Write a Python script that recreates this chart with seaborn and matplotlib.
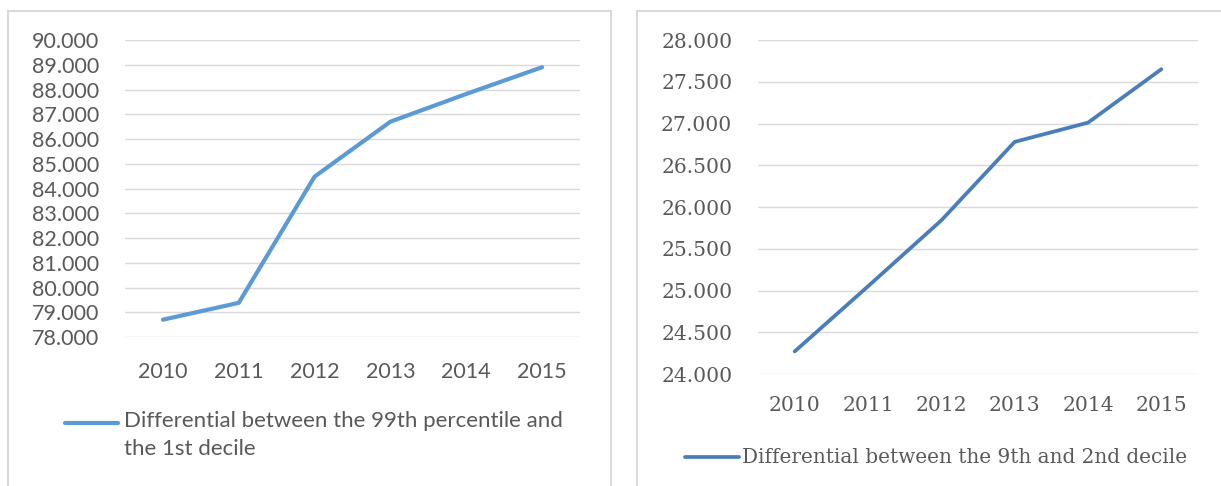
import matplotlib
matplotlib.use("Agg")
import matplotlib.pyplot as plt
from matplotlib.lines import Line2D
from matplotlib.patches import Rectangle
import seaborn as sns
import pandas as pd

years = ["2010", "2011", "2012", "2013", "2014", "2015"]
p99_d1 = [78.70, 79.38, 84.48, 86.70, 87.82, 88.90]
d9_d2 = [24.27, 25.05, 25.84, 26.78, 27.01, 27.65]

left_label = "Differential between the 99th percentile and\nthe 1st decile"
right_label = "Differential between the 9th and 2nd decile"

left_ticks = list(range(78, 91))
right_ticks = [24.0, 24.5, 25.0, 25.5, 26.0, 26.5, 27.0, 27.5, 28.0]

sns.set_theme(style="white")
plt.rcParams["font.family"] = ["Lato", "DejaVu Sans"]

W, H = 1221, 486
fig = plt.figure(figsize=(W / 100, H / 100), dpi=100)
fig.patch.set_facecolor("white")

grid_c = "#D9D9D9"
text_c = "#595959"
sans = ["Lato", "DejaVu Sans"]
serif = ["DejaVu Serif"]


def px(x0, y0, x1, y1):
    """Figure-fraction rectangle from pixel corners (top-left origin)."""
    return [x0 / W, 1 - y1 / H, (x1 - x0) / W, (y1 - y0) / H]


# panel frames
for x0, x1 in [(8, 611), (637, 1240)]:
    fig.patches.append(Rectangle((x0 / W, -0.1), (x1 - x0) / W, 1.1 - 11 / H,
                                 transform=fig.transFigure, fill=False,
                                 edgecolor=grid_c, linewidth=1.5))

df_l = pd.DataFrame({"year": years, "value": p99_d1})
df_r = pd.DataFrame({"year": years, "value": d9_d2})

ax1 = fig.add_axes(px(125, 40, 580, 337))
ax2 = fig.add_axes(px(758, 40, 1198, 374))

sns.lineplot(data=df_l, x="year", y="value", ax=ax1, color="#5B9BD5",
             linewidth=3.0, solid_capstyle="round")
sns.lineplot(data=df_r, x="year", y="value", ax=ax2, color="#4A7EBB",
             linewidth=2.7, solid_capstyle="round")

for ax, ticks, fam, yfs, xfs, ypad, xpad in [
    (ax1, left_ticks, sans, 15.5, 15.5, 18.5, 18),
    (ax2, right_ticks, serif, 14.6, 14.6, 18.5, 15.5),
]:
    ax.set_xlim(-0.5, 5.5)
    ax.set_ylim(ticks[0], ticks[-1])
    ax.set_yticks(ticks)
    ax.set_yticklabels([f"{t:.3f}" for t in ticks], family=fam,
                       fontsize=yfs, color=text_c)
    ax.set_xticks(range(len(years)))
    ax.set_xticklabels(years, family=fam, fontsize=xfs, color=text_c)
    ax.set_xlabel("")
    ax.set_ylabel("")
    for s in ax.spines.values():
        s.set_visible(False)
    ax.grid(axis="y", color=grid_c, linewidth=1.0)
    ax.set_axisbelow(True)
    ax.tick_params(axis="both", length=0)
    ax.tick_params(axis="y", pad=ypad)
    ax.tick_params(axis="x", pad=xpad)

# legend entries
fig.lines.append(Line2D([65 / W, 118 / W], [1 - 423 / H] * 2, transform=fig.transFigure,
                        color="#5B9BD5", linewidth=3.0, solid_capstyle="round"))
fig.text(124 / W, 1 - 411 / H, left_label, ha="left", va="top", fontsize=16,
         color=text_c, family=sans, linespacing=1.5)

fig.lines.append(Line2D([685 / W, 739 / W], [1 - 457 / H] * 2, transform=fig.transFigure,
                        color="#4A7EBB", linewidth=2.7, solid_capstyle="round"))
fig.text(742 / W, 1 - 457 / H, right_label, ha="left", va="center", fontsize=14.4,
         color=text_c, family=serif)

fig.savefig("out.png", dpi=100, facecolor="white")
